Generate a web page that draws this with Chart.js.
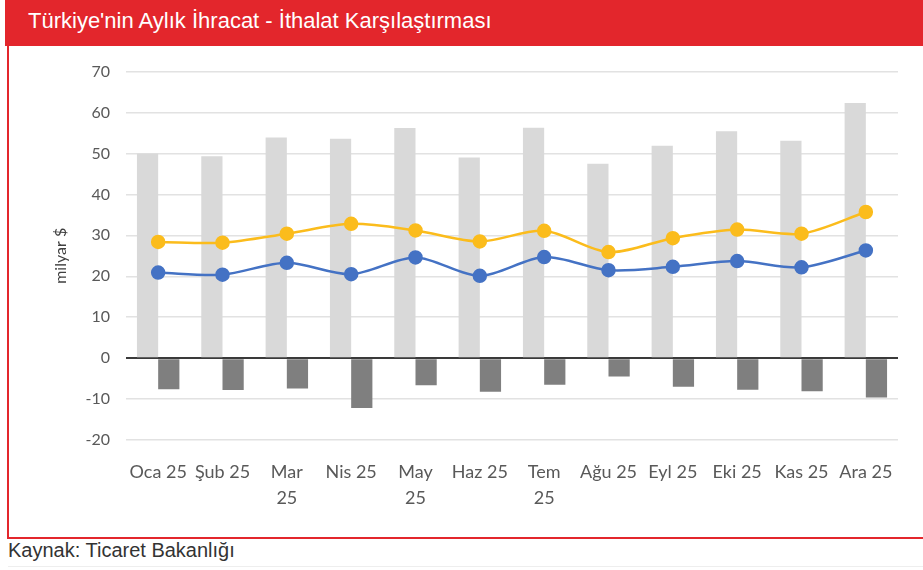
<!DOCTYPE html>
<html>
<head>
<meta charset="utf-8">
<script src="https://cdn.jsdelivr.net/npm/chart.js@4.4.1/dist/chart.umd.min.js"></script>
<style>
  body { margin: 0; background: #fff; width: 923px; height: 570px; overflow: hidden; position: relative; }
  #header { position: absolute; left: 5px; top: 0; width: 918px; height: 46px; background: #e3262c;
    color: #fff; font: 22px "Liberation Sans", Arial, sans-serif; line-height: 42px; padding-left: 23px; box-sizing: border-box; }
  #box { position: absolute; left: 7px; top: 46px; width: 920px; height: 493px; border: 2px solid #e3262c; border-top: none; box-sizing: border-box; }
  #wrap { position: absolute; left: 8px; top: 46px; width: 913px; height: 489px; }
  #source { position: absolute; left: 8px; top: 540px; font: 20px "Liberation Sans", Arial, sans-serif; line-height: 20px; color: #333; }
  #rule { position: absolute; left: 8px; top: 566px; width: 915px; height: 1px; background: #eee; }
</style>
</head>
<body>
<div id="header">Türkiye'nin Aylık İhracat - İthalat Karşılaştırması</div>
<div id="box"></div>
<div id="wrap"><canvas id="myChart"></canvas></div>
<div id="source">Kaynak: Ticaret Bakanlığı</div>
<div id="rule"></div>
<script>
// months (2025)
const months = ["Oca 25", "Şub 25", ["Mar", "25"], "Nis 25", ["May", "25"], "Haz 25",
  ["Tem", "25"], "Ağu 25", "Eyl 25", "Eki 25", "Kas 25", "Ara 25"];
// dış ticaret hacmi, milyar $
const tradeVolume = [50.0, 49.3, 53.9, 53.6, 56.2, 49.0, 56.3, 47.5, 51.9, 55.4, 53.1, 62.3];
// dış ticaret dengesi
const tradeBalance = [-7.6, -7.8, -7.4, -12.2, -6.6, -8.2, -6.5, -4.5, -7.0, -7.7, -8.1, -9.6];
// ithalat
const imports = [28.4, 28.2, 30.4, 32.8, 31.2, 28.5, 31.1, 25.9, 29.3, 31.4, 30.4, 35.7];
// ihracat
const exports = [20.9, 20.4, 23.3, 20.5, 24.6, 20.1, 24.7, 21.5, 22.3, 23.7, 22.2, 26.3];
const yTicks = [70, 60, 50, 40, 30, 20, 10, 0, -10, -20];

const fontFam = "Lato, 'Open Sans', sans-serif";

let ctx = document.getElementById("myChart").getContext("2d");
let chart = new Chart(ctx, {
  type: "bar",
  data: {
    labels: months,
    datasets: [
      {
        type: "line",
        label: "İthalat",
        data: imports,
        borderColor: "#fbbc1c",
        backgroundColor: "#fbbc1c",
        borderWidth: 2.5,
        pointRadius: 6,
        tension: 0.3,
        order: 0,
      },
      {
        type: "line",
        label: "İhracat",
        data: exports,
        borderColor: "#4472c4",
        backgroundColor: "#4472c4",
        borderWidth: 2.5,
        pointRadius: 6,
        tension: 0.3,
        order: 0,
      },
      {
        label: "Hacim",
        data: tradeVolume,
        backgroundColor: "#d9d9d9",
        barPercentage: 1,
        categoryPercentage: 0.66,
        order: 1,
      },
      {
        label: "Denge",
        data: tradeBalance,
        backgroundColor: "#7f7f7f",
        barPercentage: 1,
        categoryPercentage: 0.66,
        order: 1,
      },
    ],
  },
  options: {
    responsive: true,
    maintainAspectRatio: false,
    animation: false,
    layout: { padding: { left: 43, right: 23, top: 25, bottom: 0 } },
    plugins: { legend: { display: false }, tooltip: { enabled: false } },
    scales: {
      x: {
        grid: { display: false, drawTicks: false },
        border: { display: false },
        ticks: { color: "#595959", font: { family: fontFam, size: 18, lineHeight: 1.4 }, maxRotation: 0, autoSkip: false, padding: 20 },
        afterFit: (s) => { s.height = 95; },
      },
      y: {
        min: -20,
        max: 70,
        afterBuildTicks: (s) => { s.ticks = yTicks.map((v) => ({ value: v })); },
        grid: {
          drawTicks: false,
          color: (c) => (c.tick && c.tick.value === 0 ? "#3a3a3a" : "#e2e2e2"),
          lineWidth: (c) => (c.tick && c.tick.value === 0 ? 2 : 1.5),
        },
        border: { display: false },
        ticks: { color: "#595959", font: { family: fontFam, size: 16 }, padding: 16 },
        title: { display: true, text: "milyar $", color: "#404040", padding: 0, font: { family: fontFam, size: 16 } },
        afterFit: (s) => { s.width = 75; },
      },
    },
  },
});
</script>
</body>
</html>
